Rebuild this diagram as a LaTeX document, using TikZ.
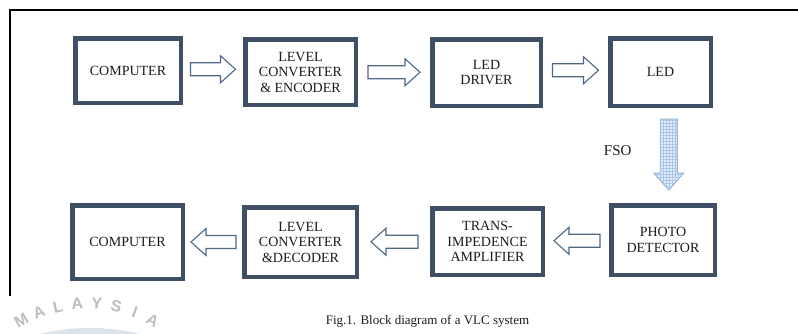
\documentclass[tikz,border=0pt]{standalone}
\usepackage{fontspec}
\setmainfont{Liberation Serif}
\newfontfamily\wmfont{Liberation Sans}
\usetikzlibrary{calc,patterns}
\definecolor{boxc}{HTML}{3E4F66}
\definecolor{arrc}{HTML}{4F6886}
\definecolor{fsoc}{HTML}{8DB3DA}
\definecolor{fsofill}{HTML}{E4EEF8}
\definecolor{fsogrid}{HTML}{A9C6E6}
\definecolor{wmc}{HTML}{BDBDBD}
\definecolor{wmarc}{HTML}{DDE3EA}
\definecolor{txtc}{HTML}{1C1C1C}
\tikzset{
  blk/.style={draw=boxc, line width=4.5pt, align=center, text=txtc,
    font=\fontsize{14}{15.5}\selectfont, inner sep=0pt},
  barrow/.style={draw=arrc, line width=1.1pt, fill=white, line join=miter},
  fsoarrow/.style={draw=fsoc, line width=1pt, fill=fsofill, line join=miter},
  lbl/.style={text=txtc, font=\fontsize{15}{16}\selectfont, inner sep=0pt},
  wm/.style={text=wmc, font=\wmfont\bfseries\fontsize{16}{16}\selectfont, inner sep=0pt, anchor=base},
  pics/rarrow/.style={code={
    \draw[barrow] ({-#1/2},-6.5) -- ({#1/2-15},-6.5) -- ({#1/2-15},-13.5)
      -- ({#1/2},0) -- ({#1/2-15},13.5) -- ({#1/2-15},6.5) -- ({-#1/2},6.5) -- cycle;}},
  pics/darrow/.style={code={
    \draw[fsoarrow, postaction={pattern=grid, pattern color=fsogrid}]
      (-8.5,-35.5) -- (8.5,-35.5) -- (8.5,18.5) -- (15,18.5) -- (0,35.5)
      -- (-15,18.5) -- (-8.5,18.5) -- cycle;}},
}
\begin{document}
\begin{tikzpicture}[x=1pt,y=-1pt]
\useasboundingbox (0,0) rectangle (798,333);
\fill[white] (0,0) rectangle (798,333);
% frame
\draw[line width=2pt] (10,296) -- (10,10) -- (799,10);
% watermark
\begin{scope}
  \clip (0,0) rectangle (798,333);
  \fill[wmarc] (90,540) circle[radius=212pt];
  \foreach \l [count=\i from 0] in {M,A,L,A,Y,S,I,A} {
    \pgfmathsetmacro\ang{119-\i*58/7}
    \node[wm, rotate=\ang-90] (wm\i) at ({87+130*cos(\ang)},{439-130*sin(\ang)}) {\l};
  }
\end{scope}
% top row
\node[blk, minimum width=105.5pt, minimum height=64.5pt] (c1) at (128,70.5) {COMPUTER};
\node[blk, minimum width=110.5pt, minimum height=65.5pt] (le) at (300.5,72) {LEVEL\\CONVERTER\\\& ENCODER};
\node[blk, minimum width=108.5pt, minimum height=66.5pt] (ld) at (486.5,72.5) {LED\\DRIVER};
\node[blk, minimum width=100.5pt, minimum height=67.5pt] (led) at (660.5,72) {LED};
% bottom row
\node[blk, minimum width=110.5pt, minimum height=73.5pt] (c2) at (127.5,242) {COMPUTER};
\node[blk, minimum width=112.5pt, minimum height=69.5pt] (lv) at (300.5,242) {LEVEL\\CONVERTER\\\&DECODER};
\node[blk, minimum width=110.5pt, minimum height=66.5pt] (ta) at (487.5,241.5) {TRANS-\\IMPEDENCE\\AMPLIFIER};
\node[blk, minimum width=103.5pt, minimum height=69.5pt] (pd) at (663,240) {PHOTO\\DETECTOR};
% block arrows
\pic at ($(c1.east)!0.5!(le.west)+(0,-2)$) {rarrow=45};
\pic at ($(le.east)!0.5!(ld.west)$) {rarrow=52};
\pic at ($(ld.east)!0.5!(led.west)+(0,-2)$) {rarrow=46};
\pic[rotate=180] at ($(c2.east)!0.5!(lv.west)$) {rarrow=45};
\pic[rotate=180] at ($(lv.east)!0.5!(ta.west)$) {rarrow=47};
\pic[rotate=180] at ($(ta.east)!0.5!(pd.west)$) {rarrow=46};
% FSO link
\coordinate (fsomid) at ($(led.south)!0.5!(pd.north)+(7,-1)$);
\pic at (fsomid) {darrow};
\node[lbl] (fso) at ($(fsomid)+(-51,-4)$) {FSO};
% caption
\node[text=txtc, font=\fontsize{13}{14}\selectfont, inner sep=0pt] (cap) at (427.5,321.5) {Fig.1. Block diagram of a VLC system};
\end{tikzpicture}
\end{document}
